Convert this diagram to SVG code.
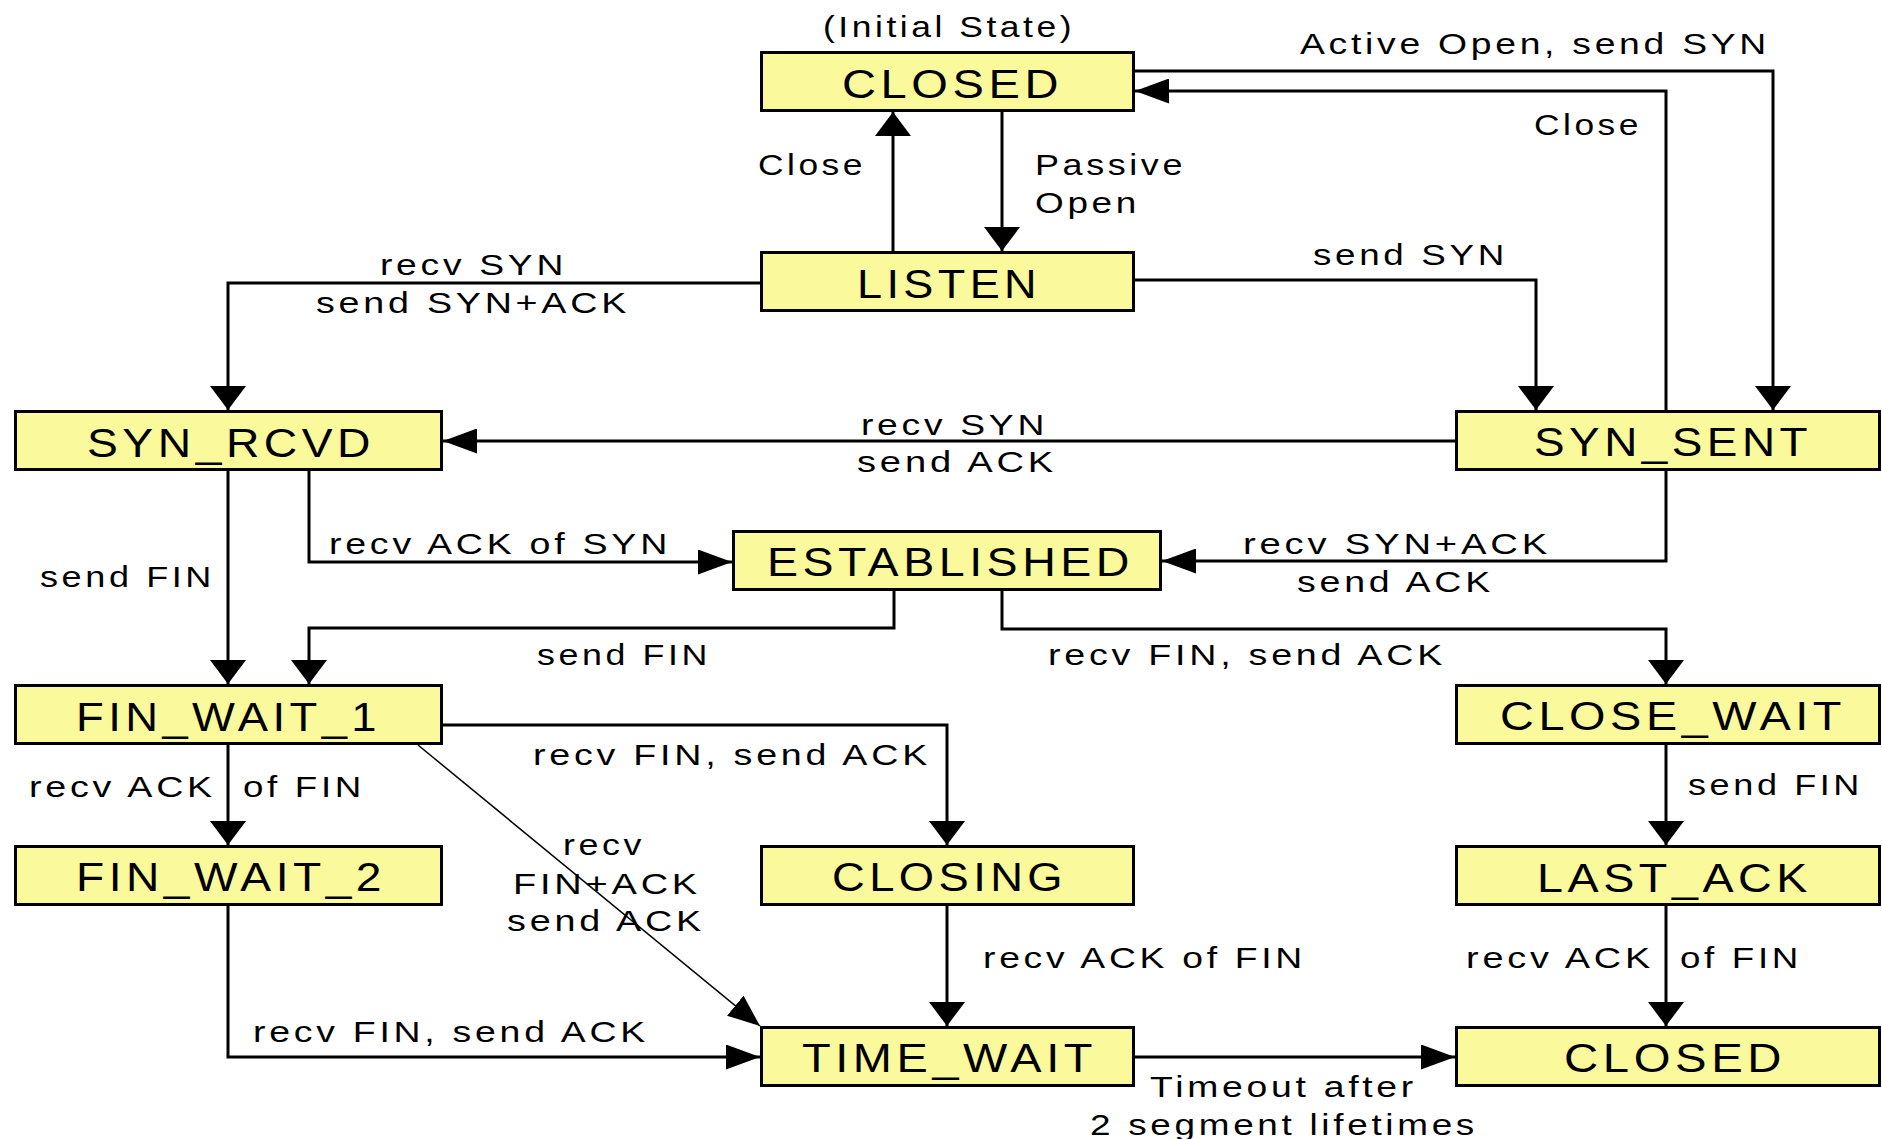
<svg xmlns="http://www.w3.org/2000/svg" width="1882" height="1139" viewBox="0 0 1882 1139">
<style>
.box{fill:#FAFA9C;stroke:#000;stroke-width:3}
.nt{font-family:"Liberation Sans",Arial,sans-serif;font-size:41px;letter-spacing:4px;fill:#000}
.lb{font-family:"Liberation Sans",Arial,sans-serif;font-size:30px;letter-spacing:3px;fill:#000}
.ln{fill:none;stroke:#000;stroke-width:3}
.v{marker-end:url(#av)}
.h{marker-end:url(#ah)}
.d{fill:none;stroke:#000;stroke-width:1.5;marker-end:url(#ad)}
</style>
<defs>
<marker id="av" markerUnits="userSpaceOnUse" viewBox="0 0 24 36" markerWidth="24" markerHeight="36" refX="24" refY="18" orient="auto"><path d="M0,0 L24,18 L0,36 z" fill="#000"/></marker>
<marker id="ah" markerUnits="userSpaceOnUse" viewBox="0 0 34 25" markerWidth="34" markerHeight="25" refX="34" refY="12.5" orient="auto"><path d="M0,0 L34,12.5 L0,25 z" fill="#000"/></marker>
<marker id="ad" markerUnits="userSpaceOnUse" viewBox="0 0 32 26" markerWidth="32" markerHeight="26" refX="32" refY="13" orient="auto"><path d="M0,0 L32,13 L0,26 z" fill="#000"/></marker>
</defs>
<rect width="1882" height="1139" fill="#fff"/>

<g id="connectors">
<polyline class="ln v" points="893,251 893,112"/>
<polyline class="ln v" points="1002,112 1002,251"/>
<polyline class="ln v" points="1135,71 1773,71 1773,410"/>
<polyline class="ln h" points="1666,410 1666,91 1135,91"/>
<polyline class="ln v" points="1135,280 1536,280 1536,410"/>
<polyline class="ln v" points="760,283 228,283 228,410"/>
<polyline class="ln h" points="1455,441 443,441"/>
<polyline class="ln h" points="309,471 309,562 732,562"/>
<polyline class="ln v" points="228,471 228,684"/>
<polyline class="ln h" points="1666,471 1666,561 1162,561"/>
<polyline class="ln v" points="894,591 894,628 309,628 309,684"/>
<polyline class="ln v" points="1002,591 1002,629 1666,629 1666,684"/>
<polyline class="ln v" points="443,725 947,725 947,845"/>
<polyline class="ln v" points="228,745 228,845"/>
<line class="d" x1="418" y1="745" x2="760" y2="1026"/>
<polyline class="ln h" points="228,906 228,1057 760,1057"/>
<polyline class="ln v" points="947,906 947,1026"/>
<polyline class="ln v" points="1666,745 1666,845"/>
<polyline class="ln v" points="1666,906 1666,1026"/>
<polyline class="ln h" points="1135,1057 1455,1057"/>
</g>

<g id="edge-labels">
<text class="lb" x="823" y="37" textLength="252" lengthAdjust="spacingAndGlyphs">(Initial State)</text>
<text class="lb" x="1300" y="54" textLength="470" lengthAdjust="spacingAndGlyphs">Active Open, send SYN</text>
<text class="lb" x="1534" y="135" textLength="108" lengthAdjust="spacingAndGlyphs">Close</text>
<text class="lb" x="758" y="175" textLength="108" lengthAdjust="spacingAndGlyphs">Close</text>
<text class="lb" x="1035" y="175" textLength="151" lengthAdjust="spacingAndGlyphs">Passive</text>
<text class="lb" x="1035" y="213" textLength="105" lengthAdjust="spacingAndGlyphs">Open</text>
<text class="lb" x="380" y="275" textLength="187" lengthAdjust="spacingAndGlyphs">recv SYN</text>
<text class="lb" x="316" y="313" textLength="314" lengthAdjust="spacingAndGlyphs">send SYN+ACK</text>
<text class="lb" x="1313" y="265" textLength="195" lengthAdjust="spacingAndGlyphs">send SYN</text>
<text class="lb" x="861" y="435" textLength="187" lengthAdjust="spacingAndGlyphs">recv SYN</text>
<text class="lb" x="857" y="472" textLength="200" lengthAdjust="spacingAndGlyphs">send ACK</text>
<text class="lb" x="329" y="554" textLength="342" lengthAdjust="spacingAndGlyphs">recv ACK of SYN</text>
<text class="lb" x="40" y="587" textLength="175" lengthAdjust="spacingAndGlyphs">send FIN</text>
<text class="lb" x="1243" y="554" textLength="308" lengthAdjust="spacingAndGlyphs">recv SYN+ACK</text>
<text class="lb" x="1297" y="592" textLength="197" lengthAdjust="spacingAndGlyphs">send ACK</text>
<text class="lb" x="537" y="665" textLength="174" lengthAdjust="spacingAndGlyphs">send FIN</text>
<text class="lb" x="1048" y="665" textLength="398" lengthAdjust="spacingAndGlyphs">recv FIN, send ACK</text>
<text class="lb" x="533" y="765" textLength="398" lengthAdjust="spacingAndGlyphs">recv FIN, send ACK</text>
<text class="lb" x="29" y="797" textLength="187" lengthAdjust="spacingAndGlyphs">recv ACK</text>
<text class="lb" x="243" y="797" textLength="122" lengthAdjust="spacingAndGlyphs">of FIN</text>
<text class="lb" x="1688" y="795" textLength="175" lengthAdjust="spacingAndGlyphs">send FIN</text>
<text class="lb" x="563" y="855" textLength="82" lengthAdjust="spacingAndGlyphs">recv</text>
<text class="lb" x="513" y="894" textLength="188" lengthAdjust="spacingAndGlyphs">FIN+ACK</text>
<text class="lb" x="507" y="931" textLength="198" lengthAdjust="spacingAndGlyphs">send ACK</text>
<text class="lb" x="983" y="968" textLength="323" lengthAdjust="spacingAndGlyphs">recv ACK of FIN</text>
<text class="lb" x="1466" y="968" textLength="188" lengthAdjust="spacingAndGlyphs">recv ACK</text>
<text class="lb" x="1680" y="968" textLength="122" lengthAdjust="spacingAndGlyphs">of FIN</text>
<text class="lb" x="253" y="1042" textLength="396" lengthAdjust="spacingAndGlyphs">recv FIN, send ACK</text>
<text class="lb" x="1150" y="1097" textLength="267" lengthAdjust="spacingAndGlyphs">Timeout after</text>
<text class="lb" x="1090" y="1135" textLength="388" lengthAdjust="spacingAndGlyphs">2 segment lifetimes</text>
</g>

<g id="node-closed-top"><rect class="box" x="761.5" y="52.5" width="372" height="58"/><text class="nt" x="842" y="98" textLength="221" lengthAdjust="spacingAndGlyphs">CLOSED</text></g>
<g id="node-listen"><rect class="box" x="761.5" y="252.5" width="372" height="58"/><text class="nt" x="857" y="298" textLength="184" lengthAdjust="spacingAndGlyphs">LISTEN</text></g>
<g id="node-syn-rcvd"><rect class="box" x="15.5" y="411.5" width="426" height="58"/><text class="nt" x="87" y="457" textLength="288" lengthAdjust="spacingAndGlyphs">SYN_RCVD</text></g>
<g id="node-syn-sent"><rect class="box" x="1456.5" y="411.5" width="423" height="58"/><text class="nt" x="1534" y="456" textLength="278" lengthAdjust="spacingAndGlyphs">SYN_SENT</text></g>
<g id="node-established"><rect class="box" x="733.5" y="531.5" width="427" height="58"/><text class="nt" x="767" y="576" textLength="367" lengthAdjust="spacingAndGlyphs">ESTABLISHED</text></g>
<g id="node-fin-wait-1"><rect class="box" x="15.5" y="685.5" width="426" height="58"/><text class="nt" x="76" y="731" textLength="305" lengthAdjust="spacingAndGlyphs">FIN_WAIT_1</text></g>
<g id="node-close-wait"><rect class="box" x="1456.5" y="685.5" width="423" height="58"/><text class="nt" x="1500" y="730" textLength="346" lengthAdjust="spacingAndGlyphs">CLOSE_WAIT</text></g>
<g id="node-fin-wait-2"><rect class="box" x="15.5" y="846.5" width="426" height="58"/><text class="nt" x="76" y="891" textLength="310" lengthAdjust="spacingAndGlyphs">FIN_WAIT_2</text></g>
<g id="node-closing"><rect class="box" x="761.5" y="846.5" width="372" height="58"/><text class="nt" x="832" y="891" textLength="235" lengthAdjust="spacingAndGlyphs">CLOSING</text></g>
<g id="node-last-ack"><rect class="box" x="1456.5" y="846.5" width="423" height="58"/><text class="nt" x="1537" y="892" textLength="275" lengthAdjust="spacingAndGlyphs">LAST_ACK</text></g>
<g id="node-time-wait"><rect class="box" x="761.5" y="1027.5" width="372" height="58"/><text class="nt" x="802" y="1072" textLength="295" lengthAdjust="spacingAndGlyphs">TIME_WAIT</text></g>
<g id="node-closed-bottom"><rect class="box" x="1456.5" y="1027.5" width="423" height="58"/><text class="nt" x="1564" y="1072" textLength="222" lengthAdjust="spacingAndGlyphs">CLOSED</text></g>
</svg>
